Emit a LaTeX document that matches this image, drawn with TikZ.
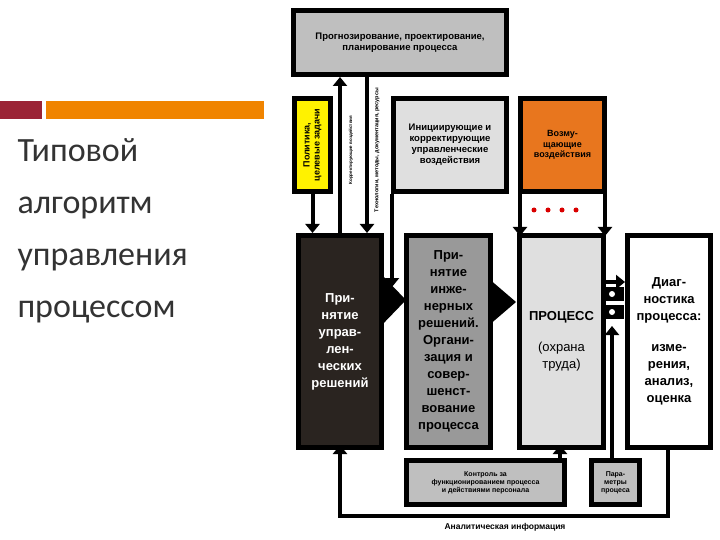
\documentclass[tikz,border=0pt]{standalone}
\usepackage{fontspec}
\setmainfont{Liberation Sans}
\newfontfamily\titlefont{Carlito}
\usetikzlibrary{arrows.meta}
\definecolor{dred}{HTML}{9B2335}
\definecolor{orng}{HTML}{F08400}
\definecolor{borng}{HTML}{E8761E}
\definecolor{ttl}{HTML}{333333}
\definecolor{dmain}{HTML}{2A2420}
\tikzset{
 bx/.style={draw=black,line width=5pt,inner sep=2pt,align=center,font=\bfseries,text=black,anchor=north west},
 ar/.style={line width=4pt,-{Triangle[length=9pt,width=14pt]}},
 ln/.style={line width=4pt},
}
\begin{document}
\begin{tikzpicture}[x=1pt,y=-1pt]
\useasboundingbox (0,0) rectangle (720,540);
\fill[dred] (0,101) rectangle (42,119);
\fill[orng] (46,101) rectangle (264,119);
\node[anchor=north west,align=left,text=ttl,font=\titlefont\fontsize{34}{52}\selectfont] (title) at (14,135) {Типовой\\алгоритм\\управления\\процессом};

% boxes
\node[bx,fill=gray!50,minimum width=213pt,minimum height=64pt,font=\bfseries\fontsize{9.5}{11}\selectfont] (plan) at (291,8) {Прогнозирование, проектирование,\\планирование процесса};
\node[bx,fill=yellow,minimum width=36pt,minimum height=93pt] (pol) at (292,96) {};
\node[rotate=90,font=\bfseries\fontsize{9}{10}\selectfont,align=center] (polt) at (pol.center) {Политика,\\целевые задачи};
\node[bx,fill=gray!25,minimum width=113pt,minimum height=93pt,font=\bfseries\fontsize{9.5}{11}\selectfont] (init) at (391,96) {Инициирующие и\\корректирующие\\управленческие\\воздействия};
\node[bx,fill=borng,minimum width=84pt,minimum height=93pt,font=\bfseries\fontsize{9}{10.5}\selectfont] (dist) at (518,96) {Возму-\\щающие\\воздействия};
\node[bx,fill=dmain,text=white,minimum width=83pt,minimum height=212pt,font=\bfseries\fontsize{13}{17}\selectfont] (main) at (296,233) {При-\\нятие\\управ-\\лен-\\ческих\\решений};
\node[bx,fill=gray!80,minimum width=84pt,minimum height=212pt,font=\bfseries\fontsize{13}{17}\selectfont] (eng) at (404,233) {При-\\нятие\\инже-\\нерных\\решений.\\Органи-\\зация и\\совер-\\шенст-\\вование\\процесса};
\node[bx,fill=gray!25,minimum width=84pt,minimum height=212pt,font=\bfseries\fontsize{13}{17}\selectfont] (proc) at (517,233) {ПРОЦЕСС\\[14pt]{\mdseries (охрана}\\{\mdseries труда)}};
\node[bx,fill=white,minimum width=83pt,minimum height=212pt,font=\bfseries\fontsize{13}{17}\selectfont] (diag) at (625,233) {Диаг-\\ностика\\процесса:\\[14pt]изме-\\рения,\\анализ,\\оценка};
\node[bx,fill=gray!50,minimum width=158pt,minimum height=44pt,font=\bfseries\fontsize{7}{8}\selectfont] (ctrl) at (404,458) {Контроль за\\функционированием процесса\\и действиями персонала};
\node[bx,fill=gray!50,minimum width=48pt,minimum height=44pt,inner sep=0pt,font=\bfseries\fontsize{7}{8}\selectfont] (par) at (589,458) {Пара-\\метры\\процеса};
\node[font=\bfseries\fontsize{8.5}{9}\selectfont] (ana) at (505,527) {Аналитическая информация};

% arrows from top
\draw[ar] (pol.south) -- (pol.south |- main.north);
\coordinate (c1) at (340,0); \coordinate (c2) at (367,0);
\draw[ar] (c1 |- main.north) -- (c1 |- plan.south);
\draw[ar] (c2 |- plan.south) -- (c2 |- main.north);
\node[rotate=90,font=\bfseries\fontsize{4.5}{5}\selectfont] (t1) at (351,150) {Корректирующие воздействия};
\node[rotate=90,font=\bfseries\fontsize{5.5}{6}\selectfont] (t2) at (377,150) {Технологии, методы, документация, ресурсы};
\coordinate (c3) at (392,0);
\draw[ar] (c3 |- init.south) -- (392,287);
% chevrons
\fill (379,272) -- (406,300) -- (379,328) -- cycle;
\fill (488,278) -- (516,302) -- (488,326) -- cycle;
% orange arrows
\draw[ar] (dist.south west) ++(2,0) -- ++(0,42);
\draw[ar] (dist.south east) ++(-2,0) -- ++(0,42);
\foreach \x in {534,548,562,576} \fill[red!85!black] (\x,210) circle (2.5pt);
% between proc and diag
\draw[ar] (603,282) -- (625,282);
\foreach \y in {294,312} {\fill (603,\y-7) rectangle (624,\y+7); \fill[white] (612,\y) circle (3pt);}
\draw[ar] (par.north -| 612,0) -- (612,326);
% control to process
\draw[ar] (560,458) -- (560,445);
% feedback
\draw[ln] (668,445) -- (668,516) -- (338,516);
\draw[ar] (340,516) -- (340,445);
\end{tikzpicture}
\end{document}
